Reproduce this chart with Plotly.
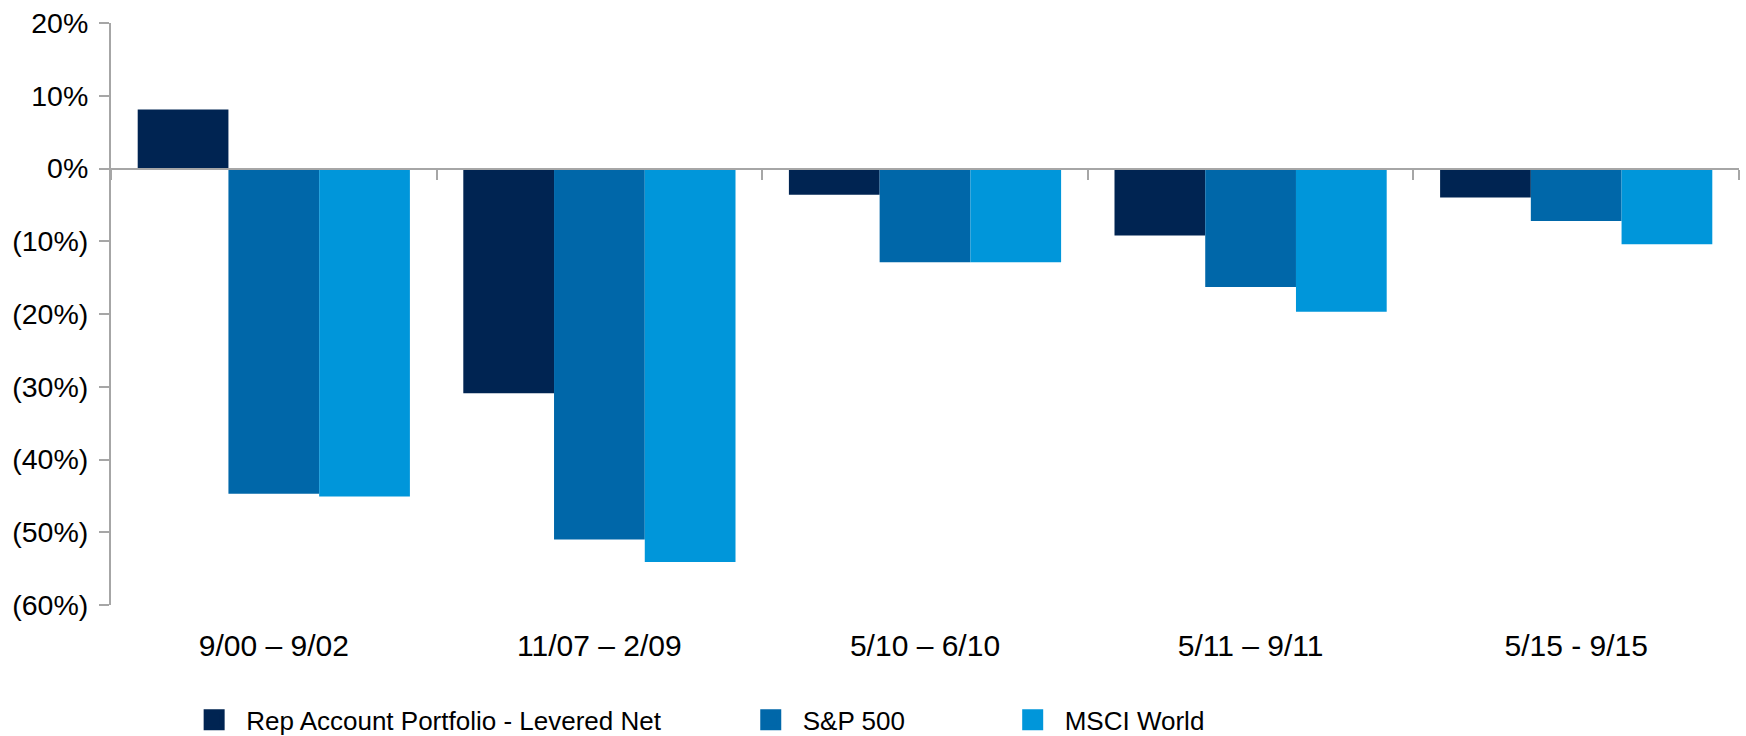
import plotly.graph_objects as go

categories = ["9/00 – 9/02", "11/07 – 2/09", "5/10 – 6/10", "5/11 – 9/11", "5/15 - 9/15"]
series_names = ["Rep Account Portfolio - Levered Net", "S&P 500", "MSCI World"]
rep_values = [8.1, -30.9, -3.6, -9.2, -4.0]
sp500_values = [-44.7, -51.0, -12.9, -16.3, -7.2]
msci_values = [-45.1, -54.1, -12.9, -19.7, -10.4]
y_tickvals = [20, 10, 0, -10, -20, -30, -40, -50, -60]
y_ticktext = ["20%", "10%", "0%", "(10%)", "(20%)", "(30%)", "(40%)", "(50%)", "(60%)"]

colors = ["#002452", "#0067A9", "#0096DA"]
axis_color = "#A6A6A6"
FONT = "Liberation Sans, Arial, sans-serif"

fig = go.Figure()
for name, vals, col in zip(series_names, [rep_values, sp500_values, msci_values], colors):
    fig.add_trace(go.Bar(x=categories, y=vals, name=name, marker=dict(color=col, line=dict(width=0)),
                         showlegend=False))

# dummy trace for label axis
fig.add_trace(go.Scatter(x=categories, y=[0] * len(categories), xaxis="x2", mode="markers",
                         marker=dict(opacity=0), showlegend=False, hoverinfo="skip"))

# legend entries
legend_ids = ["legend", "legend2", "legend3"]
legend_x = [0.0437, 0.3856, 0.5465]
for name, col, lid in zip(series_names, colors, legend_ids):
    fig.add_trace(go.Scatter(x=[None], y=[None], mode="markers", name=name, legend=lid,
                             marker=dict(symbol="square", size=16, color=col, line=dict(color=col, width=5)),
                             showlegend=True, hoverinfo="skip"))

leg_common = dict(orientation="h", yanchor="middle", y=-0.1975, xanchor="left",
                  font=dict(family=FONT, size=26, color="#000000"), bgcolor="rgba(0,0,0,0)",
                  itemwidth=54)

fig.update_layout(
    width=1746, height=736,
    margin=dict(l=111, r=7, t=23, b=131, autoexpand=False),
    paper_bgcolor="white", plot_bgcolor="white",
    barmode="group", bargap=0.164, bargroupgap=0,
    font=dict(family=FONT, size=28, color="#000000"),
    xaxis=dict(type="category", categoryarray=categories, range=[-0.5, 4.5],
               anchor="free", position=0.75,
               showline=True, linecolor=axis_color, linewidth=2,
               ticks="outside", tickson="boundaries", ticklen=10, tickwidth=2, tickcolor=axis_color,
               showticklabels=False, showgrid=False, zeroline=False),
    xaxis2=dict(type="category", categoryarray=categories, range=[-0.5, 4.5],
                overlaying="x", anchor="y", side="bottom",
                showline=False, ticks="", showticklabels=True, showgrid=False, zeroline=False,
                tickfont=dict(family=FONT, size=30, color="#000000"), ticklabelstandoff=20),
    yaxis=dict(range=[-60, 20], tickvals=y_tickvals, ticktext=y_ticktext,
               showline=True, linecolor=axis_color, linewidth=2,
               ticks="outside", ticklen=10, tickwidth=2, tickcolor=axis_color,
               showgrid=False, zeroline=False, ticklabelstandoff=5,
               tickfont=dict(family=FONT, size=28.5, color="#000000")),
    legend=dict(leg_common, x=legend_x[0]),
    legend2=dict(leg_common, x=legend_x[1]),
    legend3=dict(leg_common, x=legend_x[2]),
)

fig.write_html("out.html")
